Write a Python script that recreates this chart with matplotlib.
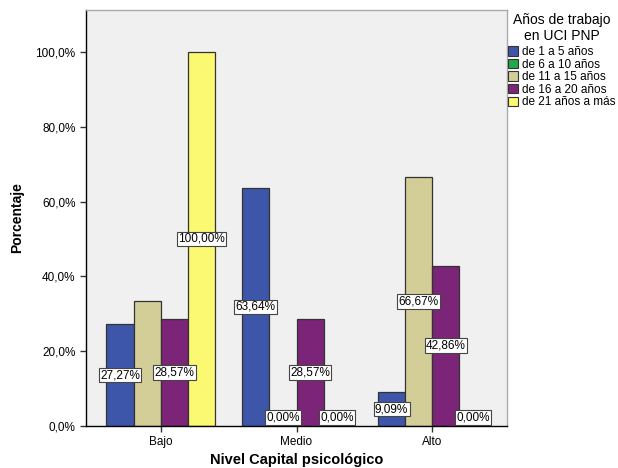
import matplotlib.pyplot as plt
import numpy as np
from matplotlib.patches import Patch

plt.rcParams['font.family'] = ['Liberation Sans', 'DejaVu Sans']

categories = ["Bajo", "Medio", "Alto"]
series_names = ["de 1 a 5 años", "de 6 a 10 años", "de 11 a 15 años",
                "de 16 a 20 años", "de 21 años a más"]
colors = ["#3D56AA", "#23A84A", "#D3CE97", "#7C2478", "#FBF872"]

# percent per category for each series (green series has no cases)
values = {
    "de 1 a 5 años": [27.27, 63.64, 9.09],
    "de 6 a 10 años": None,
    "de 11 a 15 años": [33.33, 0.0, 66.67],
    "de 16 a 20 años": [28.57, 28.57, 42.86],
    "de 21 años a más": [100.0, 0.0, 0.0],
}
# labels hidden in the original (11 a 15, Bajo)
hidden = {("de 11 a 15 años", 0)}

fig = plt.figure(figsize=(6.18, 4.68), dpi=100)
ax = fig.add_axes([0.1392, 0.0897, 0.6812, 0.8889])
ax.set_facecolor("#F0F0F0")

x = np.arange(len(categories))
w = 0.2
drawn = [n for n in series_names if values[n] is not None]
offsets = (np.arange(len(drawn)) - (len(drawn) - 1) / 2) * w

for off, name in zip(offsets, drawn):
    col = colors[series_names.index(name)]
    vals = values[name]
    ax.bar(x + off, vals, w, color=col, edgecolor="#333333", linewidth=0.9, zorder=2)
    for i, v in enumerate(vals):
        if (name, i) in hidden:
            continue
        txt = f"{v:.2f}".replace(".", ",") + "%"
        box = dict(boxstyle="square,pad=0.12", fc="white", ec="#444444", lw=0.8)
        if v == 0:
            ax.text(x[i] + off, 0.6, txt, ha="center", va="bottom", fontsize=8.5,
                    bbox=box, zorder=4)
        else:
            ax.text(x[i] + off, v / 2, txt, ha="center", va="center", fontsize=8.5,
                    bbox=box, zorder=4)

ax.set_xlim(-0.55, 2.55)
ax.set_ylim(0, 111.2)
ax.set_yticks(np.arange(0, 101, 20))
ax.set_yticklabels([f"{t:.1f}".replace(".", ",") + "%" for t in np.arange(0, 101, 20)],
                   fontsize=8.5)
ax.set_xticks(x)
ax.set_xticklabels(categories, fontsize=8.5)
ax.tick_params(axis="both", length=4, width=1, color="#333333")
ax.tick_params(axis="x", pad=3)

for s in ["top", "right"]:
    ax.spines[s].set_color("#AAAAAA")
    ax.spines[s].set_linewidth(1)
for s in ["left", "bottom"]:
    ax.spines[s].set_color("black")
    ax.spines[s].set_linewidth(1)

ax.set_ylabel("Porcentaje", fontsize=10, fontweight="bold")
ax.yaxis.set_label_coords(-0.147, 0.5)
ax.set_xlabel("Nivel Capital psicológico", fontsize=10.5, fontweight="bold")
ax.xaxis.set_label_coords(0.5, -0.066)

fig.text(562 / 618, 1 - 28 / 468, "Años de trabajo\nen UCI PNP", ha="center", va="center",
         fontsize=10, linespacing=1.15)
handles = [Patch(facecolor=c, edgecolor="#333333", linewidth=0.8) for c in colors]
leg = fig.legend(handles, series_names, loc="upper left",
                 bbox_to_anchor=(508 / 618, 1 - 46 / 468),
                 frameon=False, fontsize=8.5,
                 handlelength=0.85, handleheight=0.85,
                 handletextpad=0.3, labelspacing=0.05, borderaxespad=0, borderpad=0)

fig.savefig("out.png", dpi=100)
plt.close(fig)
